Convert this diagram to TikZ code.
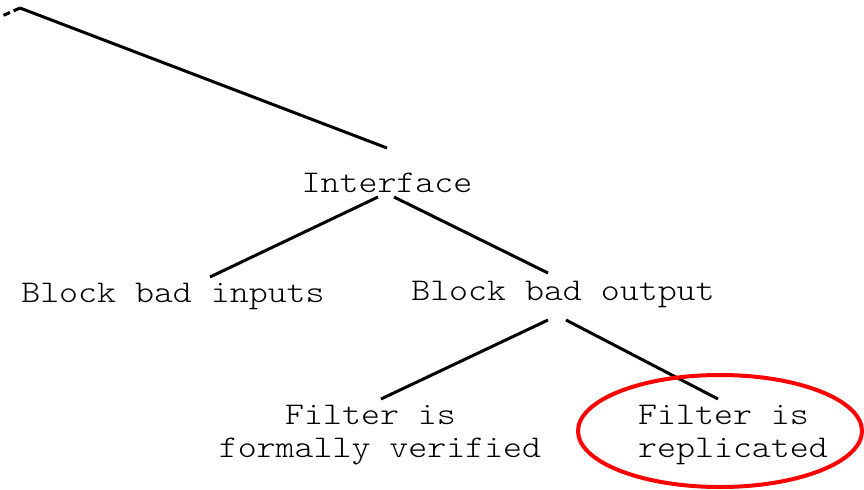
\documentclass[tikz,border=0pt]{standalone}
\usepackage{fontspec}
\newfontfamily\courlike{lmmonolt10-regular.otf}[FakeStretch=1.143]
\begin{document}
\begin{tikzpicture}[x=0.5pt,y=-0.5pt,
  lbl/.style={font=\courlike\fontsize{15.8}{16.2}\selectfont, inner sep=0pt, align=center},
  edge/.style={line width=1.5pt, black},
  ring/.style={draw=red, line width=2pt}]
\useasboundingbox (0,0) rectangle (864,489);
% tree labels
\node[lbl] (iface) at (387,183) {Interface};
\node[lbl] (inputs) at (173,296) {Block bad inputs};
\node[lbl] (output) at (563,294) {Block bad output};
\node[lbl] (verified) at (380,435) {Filter is\hphantom{x}\\formally verified};
\node[lbl] (replic) at (733,435) {Filter is\hphantom{x}\\replicated};
% edge end points
\coordinate (root) at (20,8);
\coordinate (rootb) at (2,16);
\coordinate (ifaceT) at (387,148);
\coordinate (ifaceL) at (378,197);
\coordinate (ifaceR) at (394,197);
\coordinate (inputsT) at (210,277);
\coordinate (outputT) at (548,273);
\coordinate (outputL) at (548,320);
\coordinate (outputR) at (566,320);
\coordinate (verifiedT) at (381,399);
\coordinate (replicT) at (718,399);
% connectors
\draw[edge, dash pattern=on 3.5pt off 2pt] (root) -- (rootb);
\draw[edge] (root) -- (ifaceT);
\draw[edge] (ifaceL) -- (inputsT);
\draw[edge] (ifaceR) -- (outputT);
\draw[edge] (outputL) -- (verifiedT);
\draw[edge] (outputR) -- (replicT);
% highlight ring
\draw[ring] (replic.center) ++(-13,-4) ellipse [x radius=142, y radius=56];
\end{tikzpicture}
\end{document}
